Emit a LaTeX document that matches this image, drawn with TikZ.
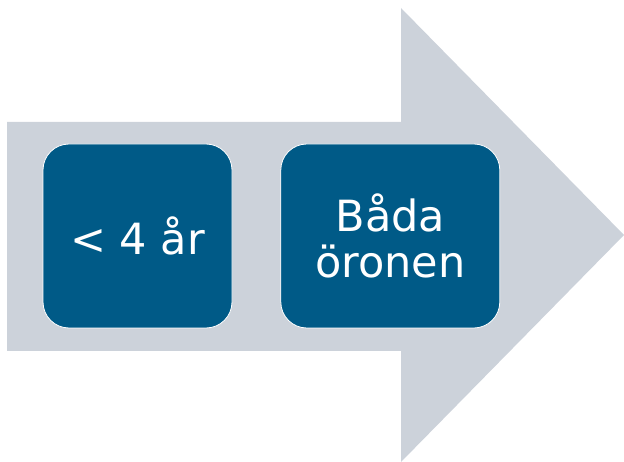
\documentclass[tikz,border=0pt]{standalone}
\usepackage{fontspec}
\setmainfont{DejaVu Sans}
\usetikzlibrary{positioning}
\definecolor{shaftgray}{RGB}{204,210,218}
\definecolor{stageblue}{RGB}{0,90,135}
\begin{document}
\begin{tikzpicture}[x=1pt,y=-1pt,
	stage/.style={draw=white, line width=0.8pt, fill=stageblue, rounded corners=26pt,
		minimum height=184pt, text=white, align=center, inner sep=0pt,
		font=\fontsize{43}{46}\selectfont}]
	\useasboundingbox (0,0) rectangle (624,462);
	\fill[shaftgray] (7,122) -- (401,122) -- (401,8) -- (624,235) -- (401,462) -- (401,351) -- (7,351) -- cycle;
	\node[stage, minimum width=189pt] (age) at (137.5,236) {< 4 år};
	\node[stage, minimum width=219pt, right=48pt of age] (ears) {Båda\\öronen};
\end{tikzpicture}
\end{document}
